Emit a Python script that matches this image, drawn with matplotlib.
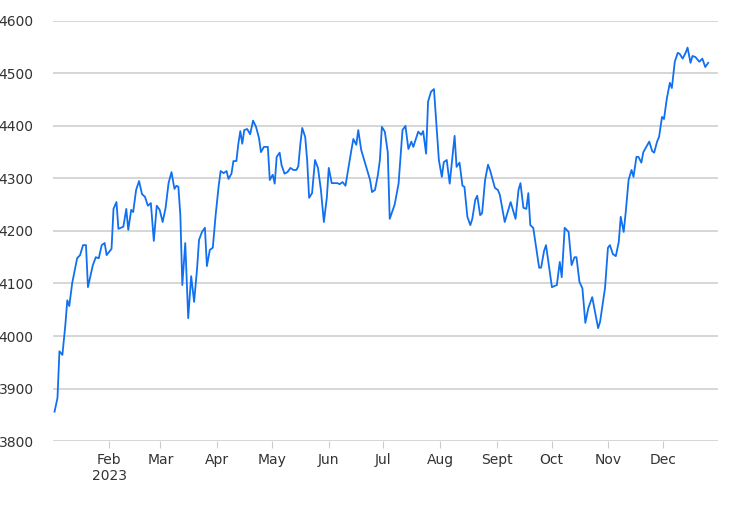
import numpy as np
import pandas as pd
import matplotlib
matplotlib.use("Agg")
from matplotlib import pyplot as plt

# chart pixel x positions (converted to days below)
X_PIX = [54, 57, 59, 62, 65, 67, 69, 72, 77, 80, 83, 86, 88, 93, 96, 99, 102, 105, 107,
         112, 114, 117, 119, 124, 127, 129, 132, 134, 137, 140, 143, 146, 149, 152, 155, 158, 161,
         164, 167, 170, 173, 176, 178, 180, 182, 184, 187, 190, 193, 196, 199, 201, 204, 207, 209,
         212, 215, 218, 221, 223, 226, 229, 231, 234, 236, 239, 241, 243, 245, 247, 250, 253, 256,
         259, 262, 264, 267, 269, 271, 273, 276, 278, 280, 283, 285, 288, 291, 294, 297, 300, 302,
         304, 306, 309, 311, 313, 316, 319, 322, 325, 328, 331, 333, 336, 339, 342, 344, 347, 350,
         353, 356, 358, 361, 363, 366, 369, 372, 375, 377, 380, 383, 385, 387, 390, 393, 395, 400, 404,
         408, 411, 414, 417, 419, 424, 427, 429, 432, 434, 437, 440, 445, 448, 450, 453, 456, 461,
         463, 466, 469, 471, 474, 477, 479, 482, 484, 487, 489, 492, 495, 497, 502, 505, 507, 512,
         518, 523, 526, 528, 531, 534, 536, 538, 541, 547, 549, 552, 554, 560, 565, 568, 570, 573,
         577, 580, 583, 585, 588, 591, 594, 597, 601, 604, 607, 609, 614, 617, 619, 622, 625, 628,
         630, 633, 635, 638, 641, 643, 646, 648, 651, 653, 656, 659, 662, 664, 667, 669, 672, 674,
         677, 680, 682, 685, 688, 690, 693, 696, 698, 701, 703, 706, 710, 713, 716, 719]
VALUES = [3856, 3882, 3971, 3964, 4021, 4068, 4057, 4101, 4148, 4154, 4173, 4173, 4093, 4135,
          4150, 4148, 4173, 4177, 4154,
          4166, 4242, 4255, 4204, 4208, 4242, 4202, 4240, 4236, 4278, 4295, 4270, 4265, 4248,
          4253, 4181, 4248, 4240,
          4217, 4244, 4291, 4312, 4280, 4286, 4284, 4230, 4097, 4177, 4034, 4114, 4065, 4128,
          4183, 4198, 4206, 4133, 4164, 4168, 4232, 4286, 4314, 4310, 4314, 4299, 4309, 4333,
          4333, 4366, 4390, 4366, 4392, 4394, 4384, 4410, 4398, 4377, 4350, 4360, 4360, 4360,
          4297, 4307, 4290, 4341, 4349, 4325, 4309, 4312, 4320, 4316, 4316, 4323, 4364, 4396,
          4379, 4335, 4263, 4272, 4335, 4320, 4278, 4217, 4263, 4320, 4291, 4291, 4291, 4289,
          4293, 4286, 4320, 4354, 4375, 4364, 4392, 4354, 4335, 4316, 4297, 4274, 4278, 4307,
          4335, 4398, 4389, 4350, 4223, 4250, 4290, 4392, 4400, 4356, 4370, 4360, 4389, 4383,
          4390, 4347, 4446, 4465, 4470, 4335, 4303, 4331, 4335, 4290, 4381, 4322, 4330, 4286,
          4284, 4227, 4211, 4223, 4259, 4267, 4230, 4234, 4297, 4326, 4316, 4282, 4278, 4269,
          4217, 4255, 4223, 4278, 4291, 4244, 4242, 4272, 4211, 4206, 4130, 4130, 4162, 4173,
          4093, 4097, 4141, 4112, 4206, 4198, 4135, 4150, 4150, 4103, 4091, 4025, 4053, 4074,
          4044, 4015, 4027, 4091, 4168, 4173, 4156, 4152, 4179, 4227, 4198, 4234, 4297, 4316,
          4303, 4341, 4341, 4330, 4350, 4360, 4370, 4352, 4349, 4370, 4379, 4417, 4413, 4453,
          4482, 4472, 4522, 4539, 4537, 4528, 4539, 4549, 4520, 4533, 4531, 4522, 4528, 4512, 4520]
Y_TICKS = [3800, 3900, 4000, 4100, 4200, 4300, 4400, 4500, 4600]
MONTHS = ["Feb\n2023", "Mar", "Apr", "May", "Jun", "Jul", "Aug", "Sept", "Oct", "Nov", "Dec"]

n = min(len(X_PIX), len(VALUES))
days = (np.array(X_PIX[:n]) - 52) / 1.86
dates = pd.Timestamp("2023-01-01") + pd.to_timedelta(days, unit="D")

fig = plt.figure(figsize=(7.48, 5.07), dpi=100)
ax = fig.add_axes([0.071, 0.13, 0.889, 0.829])
ax.plot(dates, VALUES[:n], color="#1170f0", lw=1.3)

ax.set_ylim(3800, 4600)
ax.set_yticks(Y_TICKS)
ax.set_xlim(pd.Timestamp("2023-01-01") + pd.Timedelta(days=0.3), pd.Timestamp("2023-12-31"))
month_ticks = pd.date_range("2023-02-01", "2023-12-01", freq="MS")
ax.set_xticks(month_ticks)
ax.set_xticklabels(MONTHS)

for s in ax.spines.values():
    s.set_visible(False)
ax.grid(axis="y", color="#d0d0d0", lw=1.2)
ax.set_axisbelow(True)
ax.tick_params(axis="y", length=0, pad=14, labelsize=10, labelcolor="#333333")
ax.tick_params(axis="x", length=5, color="#cccccc", labelsize=10, labelcolor="#333333")

fig.savefig("out.png", dpi=100)
